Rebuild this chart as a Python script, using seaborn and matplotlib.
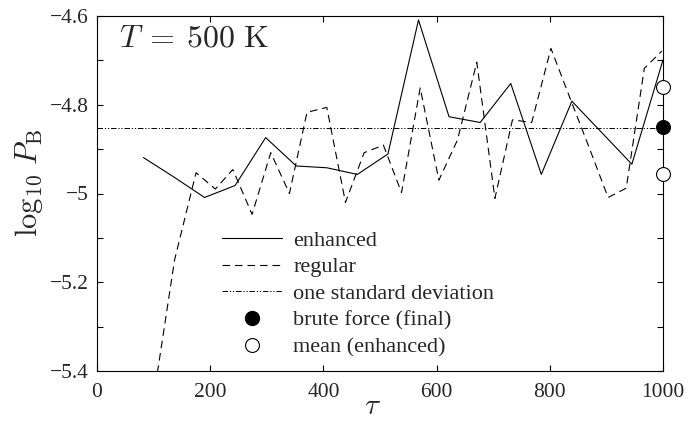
import numpy as np
import pandas as pd
import matplotlib
matplotlib.use("Agg")
import matplotlib.pyplot as plt
from matplotlib.lines import Line2D
from matplotlib.ticker import MultipleLocator, FuncFormatter
import seaborn as sns

# ---- data ----
tau_enh = [82, 136, 190, 244, 298, 352, 406, 460, 514, 568, 622, 677, 731, 785, 839, 892, 945, 1000]
enhanced = [-4.919, -4.963, -5.009, -4.982, -4.874, -4.938, -4.942, -4.957, -4.911, -4.609,
            -4.827, -4.840, -4.752, -4.957, -4.792, -4.863, -4.934, -4.699]

tau_reg = [100, 137, 175, 209, 240, 274, 307, 340, 371, 406, 439, 472, 506, 538, 571, 604,
           637, 671, 703, 734, 768, 802, 836, 870, 903, 935, 967, 998]
regular = [-5.46, -5.15, -4.953, -4.990, -4.946, -5.047, -4.908, -5.000, -4.817, -4.806,
           -5.020, -4.908, -4.891, -4.998, -4.762, -4.970, -4.879, -4.704, -5.011, -4.834,
           -4.840, -4.673, -4.786, -4.898, -5.009, -4.988, -4.718, -4.679]

std_level = -4.853
brute_tau = [1000]
brute_val = [-4.850]
mean_tau = [1000, 1000]
mean_val = [-4.760, -4.957]

labels = ["enhanced", "regular", "one standard deviation", "brute force (final)", "mean (enhanced)"]

# ---- style ----
sns.set_theme(style="ticks")
plt.rcParams["font.family"] = ["Liberation Serif", "DejaVu Serif"]
plt.rcParams["mathtext.fontset"] = "cm"
plt.rcParams["lines.scale_dashes"] = False
plt.rcParams["axes.linewidth"] = 0.8

fig = plt.figure(figsize=(6.91, 4.21), dpi=100)
ax = fig.add_axes([97 / 691, 1 - 371 / 421, 566 / 691, 355 / 421])

df_enh = pd.DataFrame({"tau": tau_enh, "val": enhanced})
df_reg = pd.DataFrame({"tau": tau_reg, "val": regular})

sns.lineplot(data=df_enh, x="tau", y="val", ax=ax, color="black", linewidth=0.8,
             linestyle="-", estimator=None, sort=False)
sns.lineplot(data=df_reg, x="tau", y="val", ax=ax, color="black", linewidth=0.8,
             linestyle=(0, (5.5, 3.5)), estimator=None, sort=False)
dashdotdot = (0, (4.0, 1.3, 0.9, 1.3, 0.9, 1.3))
ax.axhline(std_level, color="black", linewidth=0.7, linestyle=dashdotdot)

sns.scatterplot(x=brute_tau, y=brute_val, ax=ax, marker="o", s=100, color="black",
                edgecolor="black", linewidth=0.8, clip_on=False, zorder=5)
sns.scatterplot(x=mean_tau, y=mean_val, ax=ax, marker="o", s=100, facecolor="white",
                edgecolor="black", linewidth=0.8, clip_on=False, zorder=5)

ax.set_xlim(0, 1000)
ax.set_ylim(-5.4, -4.6)
ax.xaxis.set_major_locator(MultipleLocator(200))
ax.yaxis.set_major_locator(MultipleLocator(0.2))
ax.yaxis.set_minor_locator(MultipleLocator(0.1))
ax.yaxis.set_major_formatter(FuncFormatter(lambda v, p: f"{v:g}".replace("-", "\u2212")))
ax.tick_params(which="both", direction="in", top=True, right=True, length=4.5, width=0.8,
               labelsize=15.5, color="black")
ax.tick_params(axis="x", pad=8.5)
ax.tick_params(axis="y", pad=6)

ax.set_xlabel(r"$\tau$", fontsize=21)
ax.set_ylabel(r"$\log_{10}\,P_{\rm B}$", fontsize=22)
ax.xaxis.set_label_coords(0.486, -0.065)
ax.yaxis.set_label_coords(-0.092, 0.53)
for s in ax.spines.values():
    s.set_visible(True)
    s.set_color("black")

ax.text(0.039, 0.9135, r"$T\:=\:500\ {\rm K}$", transform=ax.transAxes, fontsize=23,
        ha="left", va="baseline")

handles = [
    Line2D([], [], color="black", linewidth=0.8, linestyle="-"),
    Line2D([], [], color="black", linewidth=0.8, linestyle=(0, (5.5, 3.5))),
    Line2D([], [], color="black", linewidth=0.7, linestyle=dashdotdot),
    Line2D([], [], color="black", marker="o", markersize=10, linestyle="none"),
    Line2D([], [], color="black", marker="o", markersize=10, markerfacecolor="white",
           markeredgewidth=0.8, linestyle="none"),
]
fig.legend(handles, labels, loc="upper left", bbox_to_anchor=(222 / 691, 1 - 230 / 421),
           frameon=False, fontsize=16, handlelength=2.7, handletextpad=0.5,
           labelspacing=0.28, borderpad=0, borderaxespad=0)

fig.savefig("out.png", dpi=100)
